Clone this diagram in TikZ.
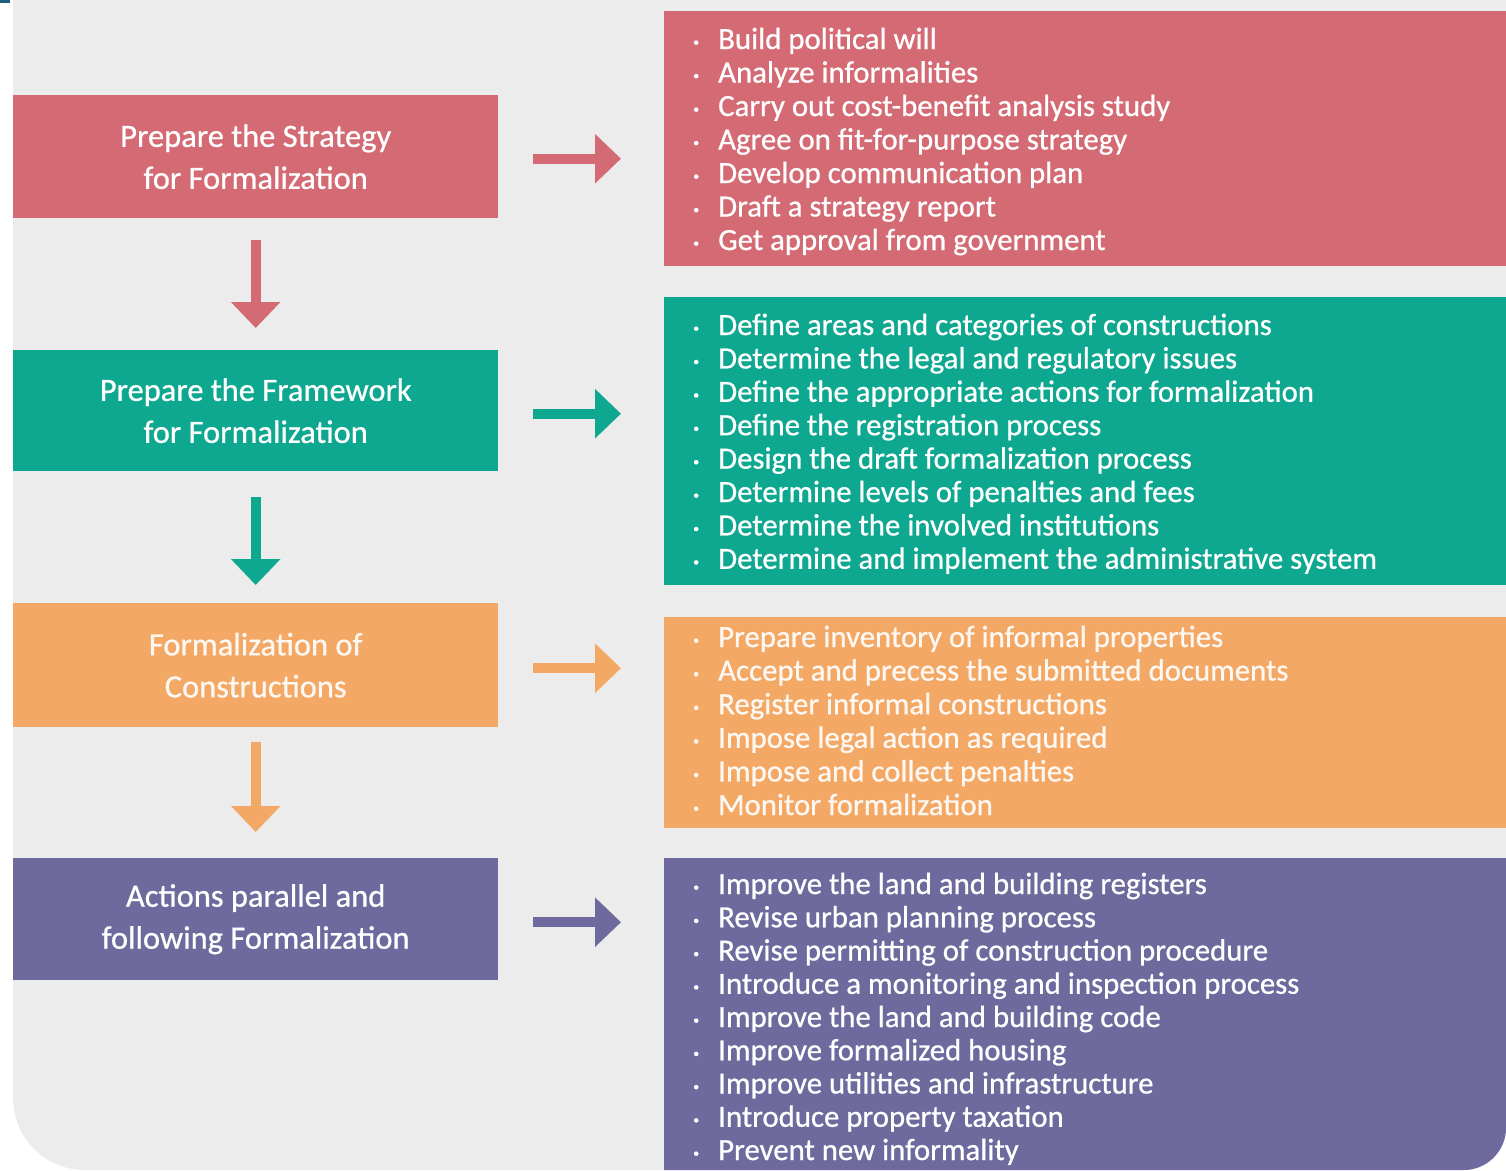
\documentclass[tikz,border=0pt]{standalone}
\usepackage{fontspec}
\setmainfont{Carlito}
\newfontfamily\semibold[FakeBold=0.7]{Carlito}
\usetikzlibrary{arrows.meta}
\definecolor{cred}{HTML}{D46A74}
\definecolor{cteal}{HTML}{0DA88F}
\definecolor{corange}{HTML}{F4A866}
\definecolor{cpurple}{HTML}{6E6A9E}
\definecolor{cpanel}{HTML}{ECECEC}
\definecolor{cmark}{HTML}{1F5F7F}
\newcommand\dotmark{\makebox[25pt][l]{\raisebox{3pt}{\fontsize{12}{12}\selectfont\textbullet}}}
\begin{document}
\begin{tikzpicture}[x=1pt,y=-1pt,
  stepbox/.style={fill=#1, anchor=north west, inner sep=0pt, minimum width=485pt},
  listbox/.style={fill=#1, anchor=north west, inner sep=0pt, minimum width=842pt},
  steptext/.style={text=white, align=center, font=\semibold\fontsize{32.5}{42}\selectfont, inner sep=0pt},
  item/.style={text=white, anchor=base west, inner sep=0pt, font=\semibold\fontsize{30.8}{33}\selectfont},
  arr/.style={draw=#1, line width=10pt, -{Triangle[length=26pt,width=48pt]}},
]
\useasboundingbox (0,0) rectangle (1506,1170);
\fill[cmark] (0,0) rectangle (10,2.5);

% panel with rounded lower corners
\begin{scope}
\clip (13,0) -- (1506,0) -- (1506,1128) .. controls (1506,1151) and (1487,1170) .. (1464,1170)
  -- (85,1170) .. controls (45,1170) and (13,1138) .. (13,1098) -- cycle;
\fill[cpanel] (0,0) rectangle (1506,1170);

% left column: phases
\node[stepbox=cred, minimum height=123pt] (l1) at (13,95) {};
\node[stepbox=cteal, minimum height=121pt] (l2) at (13,350) {};
\node[stepbox=corange, minimum height=124pt] (l3) at (13,603) {};
\node[stepbox=cpurple, minimum height=122pt] (l4) at (13,858) {};
\node[steptext] (t1) at (l1.center) {Prepare the Strategy\\for Formalization};
\node[steptext] (t2) at (l2.center) {Prepare the Framework\\for Formalization};
\node[steptext, text=white!92!corange] (t3) at (l3.center) {Formalization of\\Constructions};
\node[steptext] (t4) at (l4.center) {Actions parallel and\\following Formalization};

% right column: activities
\node[listbox=cred, minimum height=255pt] (r1) at (664,11) {};
\node[listbox=cteal, minimum height=288pt] (r2) at (664,297) {};
\node[listbox=corange, minimum height=211pt] (r3) at (664,617) {};
\node[listbox=cpurple, minimum height=330pt] (r4) at (664,858) {};

\foreach \t [count=\i] in {Build political will, Analyze informalities,
  Carry out cost-benefit analysis study, Agree on fit-for-purpose strategy,
  Develop communication plan, Draft a strategy report, Get approval from government}
  \node[item] (a\i) at (693,{49+33.5*(\i-1)}) {\dotmark\t};

\foreach \t [count=\i] in {Define areas and categories of constructions,
  Determine the legal and regulatory issues,
  Define the appropriate actions for formalization,
  Define the registration process, Design the draft formalization process,
  Determine levels of penalties and fees, Determine the involved institutions,
  Determine and implement the administrative system}
  \node[item] (b\i) at (693,{335+33.4*(\i-1)}) {\dotmark\t};

\foreach \t [count=\i] in {Prepare inventory of informal properties,
  Accept and precess the submitted documents, Register informal constructions,
  Impose legal action as required, Impose and collect penalties,
  Monitor formalization}
  \node[item, text=white!92!corange] (c\i) at (693,{647+33.6*(\i-1)}) {\dotmark\t};

\foreach \t [count=\i] in {Improve the land and building registers,
  Revise urban planning process, Revise permitting of construction procedure,
  Introduce a monitoring and inspection process, Improve the land and building code,
  Improve formalized housing, Improve utilities and infrastructure,
  Introduce property taxation, Prevent new informality}
  \node[item] (d\i) at (693,{894+33.25*(\i-1)}) {\dotmark\t};

% arrows between phases
\draw[arr=cred, shorten <=22pt, shorten >=22pt] (l1.south) -- (l2.north);
\draw[arr=cteal, shorten <=26pt, shorten >=18pt] (l2.south) -- (l3.north);
\draw[arr=corange, shorten <=15pt, shorten >=26pt] (l3.south) -- (l4.north);

% arrows from phases to activities, sitting a little below the phase centre line
\draw[arr=cred, shorten <=35pt, shorten >=43pt] ([yshift=-2pt]l1.east) -- ([yshift=-2pt]l1.east -| r1.west);
\draw[arr=cteal, shorten <=35pt, shorten >=43pt] ([yshift=-3pt]l2.east) -- ([yshift=-3pt]l2.east -| r2.west);
\draw[arr=corange, shorten <=35pt, shorten >=43pt] ([yshift=-3pt]l3.east) -- ([yshift=-3pt]l3.east -| r3.west);
\draw[arr=cpurple, shorten <=35pt, shorten >=43pt] ([yshift=-3pt]l4.east) -- ([yshift=-3pt]l4.east -| r4.west);
\end{scope}
\end{tikzpicture}
\end{document}
